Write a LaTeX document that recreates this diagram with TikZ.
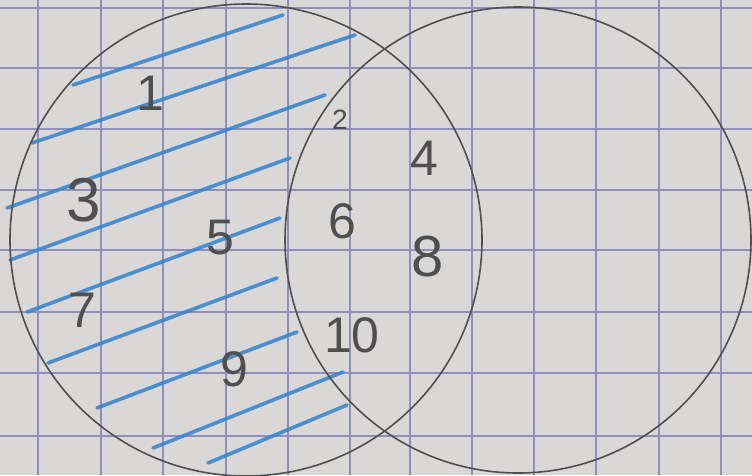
\documentclass[tikz,border=0pt]{standalone}
\usepackage{fontspec}
\setmainfont{Liberation Sans}
\definecolor{paper}{HTML}{D9D8D7}
\definecolor{gridc}{HTML}{8E8FBE}
\definecolor{pencil}{HTML}{4F4F4F}
\definecolor{hatch}{HTML}{3A86CC}
\begin{document}
\begin{tikzpicture}[x=1pt,y=-1pt,
  gridline/.style={gridc,line width=2.2pt},
  setcircle/.style={pencil,line width=1.6pt},
  hatchline/.style={hatch,line width=3.6pt,line cap=round,opacity=0.9},
  num/.style={text=pencil,inner sep=0pt,font=\fontsize{50}{50}\selectfont}]
\useasboundingbox (0,0) rectangle (752,475);
\fill[paper] (0,0) rectangle (752,475);
% grid
\foreach \y in {8,68,129,190,250,312,373,436}
  \draw[gridline] (0,\y) -- (752,\y);
\foreach \x in {38,101,163,226,288,350,410,472,534,596,659,721}
  \draw[gridline] (\x,0) -- (\x,475);
% hatching (A only)
\draw[hatchline] (73,85) -- (283,15);
\draw[hatchline] (32,143) -- (355,35);
\draw[hatchline] (7,208) -- (325,95);
\draw[hatchline] (10,260) -- (290,158);
\draw[hatchline] (27,312) -- (280,218);
\draw[hatchline] (48,363) -- (277,278);
\draw[hatchline] (97,408) -- (297,332);
\draw[hatchline] (153,448) -- (343,372);
\draw[hatchline] (208,463) -- (347,405);
% circles
\node[setcircle,draw,circle,minimum size=472pt,inner sep=0pt] (A) at (246,240) {};
\node[setcircle,draw,circle,minimum size=466pt,inner sep=0pt] (B) at (518,240) {};
% numbers
\node[num] (n1) at (150,93) {1};
\node[num,font=\fontsize{28}{28}\selectfont] (n2) at (340,120) {2};
\node[num,font=\fontsize{62}{62}\selectfont] (n3) at (84,200) {3};
\node[num] (n4) at (424,158) {4};
\node[num] (n5) at (220,238) {5};
\node[num] (n6) at (342,221) {6};
\node[num] (n7) at (82,310) {7};
\node[num,font=\fontsize{58}{58}\selectfont] (n8) at (428,257) {8};
\node[num] (n9) at (234,369) {9};
\node[num] (n10) at (352,335) {10};
\end{tikzpicture}
\end{document}
